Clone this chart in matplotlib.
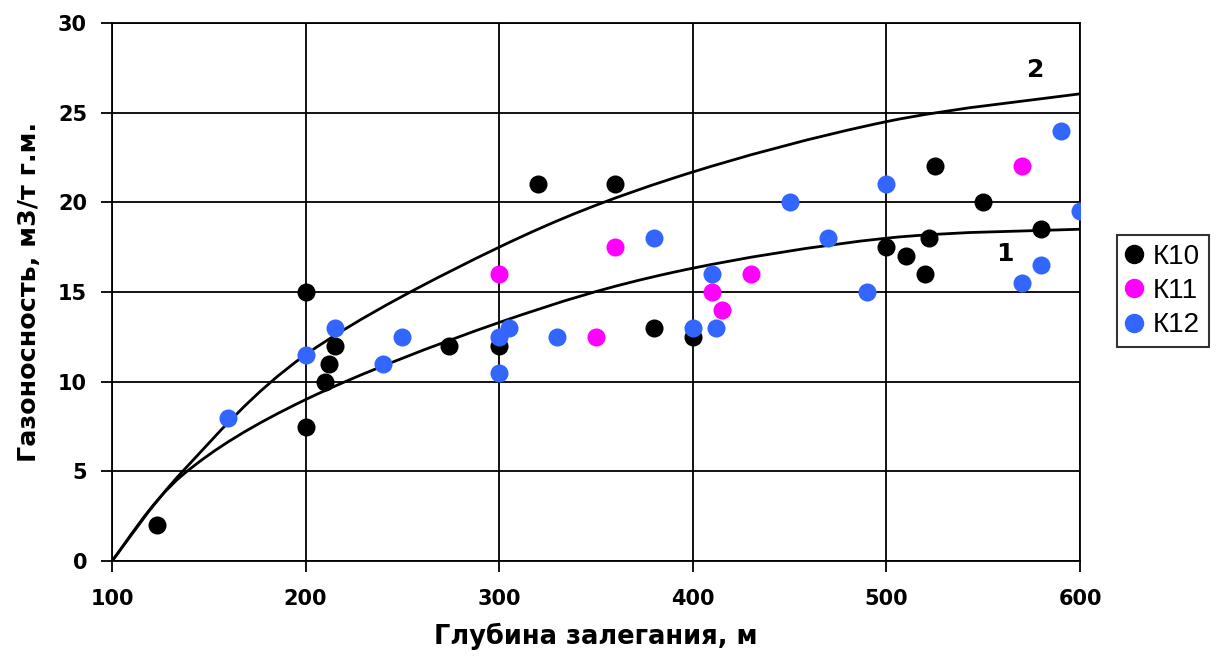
import matplotlib
matplotlib.use("Agg")
import matplotlib.pyplot as plt
from matplotlib.path import Path
from matplotlib.patches import PathPatch
import numpy as np

# ---- data ----
k10_x = [123, 200, 200, 210, 212, 215, 274, 300, 320, 360, 380, 400, 500, 510, 520, 522, 525, 550, 580]
k10_y = [2, 15, 7.5, 10, 11, 12, 12, 12, 21, 21, 13, 12.5, 17.5, 17, 16, 18, 22, 20, 18.5]

k11_x = [300, 350, 360, 410, 415, 430, 570]
k11_y = [16, 12.5, 17.5, 15, 14, 16, 22]

k12_x = [160, 200, 215, 240, 250, 300, 300, 305, 330, 380, 400, 410, 412, 450, 470, 490, 500, 570, 580, 590, 600]
k12_y = [8, 11.5, 13, 11, 12.5, 10.5, 12.5, 13, 12.5, 18, 13, 16, 13, 20, 18, 15, 21, 15.5, 16.5, 24, 19.5]

curve1_x = [100, 136.5, 200, 300, 390, 500, 600]
curve1_y = [0, 4.8, 9.0, 13.3, 16.1, 18.0, 18.5]

curve2_x = [100, 136.5, 200, 300, 390, 500, 600]
curve2_y = [0, 5.0, 11.5, 17.5, 21.35, 24.5, 26.05]

series_labels = ["К10", "К11", "К12"]
curve_labels = ["1", "2"]
x_ticks = [100, 200, 300, 400, 500, 600]
y_ticks = [0, 5, 10, 15, 20, 25, 30]
x_title = "Глубина залегания, м"
y_title = "Газоносность, м3/т г.м."


def smooth_path(xs, ys):
    """Excel-style smoothed line: cubic Bezier segments through the points."""
    pts = np.column_stack([xs, ys]).astype(float)
    n = len(pts)
    verts = [pts[0]]
    codes = [Path.MOVETO]
    for i in range(n - 1):
        p0 = pts[i - 1] if i > 0 else pts[i]
        p1 = pts[i]
        p2 = pts[i + 1]
        p3 = pts[i + 2] if i + 2 < n else pts[i + 1]
        c1 = p1 + (p2 - p0) / 6.0
        c2 = p2 - (p3 - p1) / 6.0
        verts += [c1, c2, p2]
        codes += [Path.CURVE4] * 3
    return Path(verts, codes)


W, H = 1219, 657
fig = plt.figure(figsize=(W / 100, H / 100), dpi=100)
ax = fig.add_axes([112 / W, 1 - 561 / H, (1080 - 112) / W, (561 - 23) / H])

ax.set_xlim(100, 600)
ax.set_ylim(0, 30)
ax.set_xticks(x_ticks)
ax.set_yticks(y_ticks)
ax.grid(True, color="black", linewidth=1.3)
ax.set_axisbelow(True)
for s in ax.spines.values():
    s.set_color("black")
    s.set_linewidth(1.3)
ax.tick_params(axis="both", direction="out", length=8, width=1.3, color="black",
               labelsize=15)
ax.tick_params(axis="y", pad=10)
ax.tick_params(axis="x", pad=12)
for lab in ax.get_xticklabels() + ax.get_yticklabels():
    lab.set_fontweight("heavy")

for cx, cy in [(curve1_x, curve1_y), (curve2_x, curve2_y)]:
    ax.add_patch(PathPatch(smooth_path(cx, cy), facecolor="none", edgecolor="black",
                           linewidth=2.0, zorder=3))

ms = 13
ax.plot(k10_x, k10_y, "o", color="black", markersize=ms, markeredgewidth=0,
        label=series_labels[0], zorder=4)
ax.plot(k11_x, k11_y, "o", color="#FF00FF", markersize=ms, markeredgewidth=0,
        label=series_labels[1], zorder=4)
ax.plot(k12_x, k12_y, "o", color="#3366FF", markersize=ms, markeredgewidth=0,
        label=series_labels[2], zorder=4)

ax.text(561, 17.1, curve_labels[0], fontsize=18, fontweight="heavy",
        ha="center", va="center", zorder=5)
ax.text(577, 27.4, curve_labels[1], fontsize=18, fontweight="heavy",
        ha="center", va="center", zorder=5)

ax.set_xlabel(x_title, fontsize=18.5, fontweight="heavy", labelpad=10)
ax.set_ylabel(y_title, fontsize=18.3, fontweight="heavy", labelpad=12)

leg = ax.legend(loc="center left", bbox_to_anchor=(1117 / W, 1 - 291 / H),
                bbox_transform=fig.transFigure, frameon=True, fancybox=False,
                shadow=False, handlelength=0.6, handletextpad=0.4,
                borderpad=0.3, labelspacing=0.3, borderaxespad=0,
                prop={"family": "Liberation Sans", "size": 20})
leg.get_frame().set_edgecolor("black")
leg.get_frame().set_linewidth(1.5)
for h in leg.legend_handles:
    h.set_markersize(14)

fig.savefig("out.png", dpi=100, facecolor="white")
